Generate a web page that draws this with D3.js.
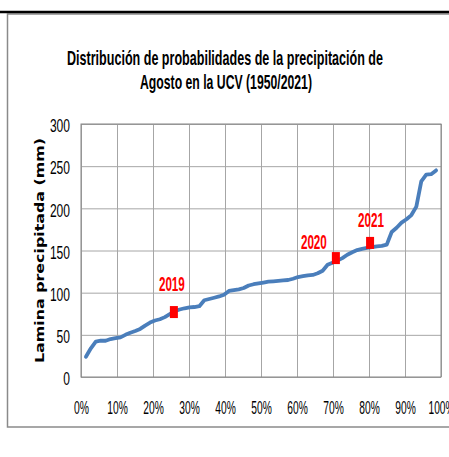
<!DOCTYPE html>
<html>
<head>
<meta charset="utf-8">
<script src="https://cdn.jsdelivr.net/npm/d3@7"></script>
<style>
  body { margin: 0; background: #fff; }
  svg { display: block; }
  .tick text { font-family: "Liberation Sans Narrow", "Liberation Sans", Arial, sans-serif; font-size: 18.5px; fill: #000; }
</style>
</head>
<body>
<div id="graf"></div>
<script>
// Lamina precipitada de agosto (mm), ordenada de menor a mayor, 72 años (1950/2021)
var lamina = [
  24, 34, 42, 43, 43, 45, 46, 47, 50, 52.5,
  54.5, 57, 61, 64.5, 67, 68.5, 71, 74.5, 78, 80,
  81.5, 82.5, 83, 84, 91, 92.5, 94, 95.5, 97.5, 102,
  103, 104, 105.5, 108.5, 110, 111, 112, 113, 113.5, 114,
  114.5, 115, 116.5, 118.5, 119.5, 120.5, 121, 123, 126, 133,
  135.5, 138, 141, 145, 148, 150.5, 152, 153, 154, 155,
  155.5, 157, 172, 177, 183, 187, 192, 202, 232, 240,
  240.5, 245
]
// años destacados
var anios      = ['2019', '2020', '2021']
var anioProb   = [0.258, 0.708, 0.803]
var anioLamina = [77, 141, 159]

var yTicks = [0, 50, 100, 150, 200, 250, 300]
var xTicks = [0, 0.1, 0.2, 0.3, 0.4, 0.5, 0.6, 0.7, 0.8, 0.9, 1]

var ancho_total = 449, alto_total = 457
var margins = { top: 124, left: 81, right: 8, bottom: 80 }
var ancho = ancho_total - margins.left - margins.right
var alto  = alto_total - margins.top - margins.bottom

// probabilidad de Weibull i/(n+1)
var n = lamina.length
var data = lamina.map((v, i) => ({ p: (i + 1) / (n + 1), v: v }))

var svg = d3.select('#graf').append('svg')
  .attr('width', ancho_total)
  .attr('height', alto_total)

svg.append('rect').attr('width', ancho_total).attr('height', alto_total).attr('fill', '#fff')

// marco del grafico
svg.append('rect')
  .attr('x', 7.5).attr('y', 14)
  .attr('width', 470).attr('height', 413)
  .attr('fill', 'none')
  .attr('stroke', '#8a8a8a')
  .attr('stroke-width', 1.5)
svg.append('line')
  .attr('x1', 0).attr('x2', ancho_total)
  .attr('y1', 12).attr('y2', 12)
  .attr('stroke', '#000')
  .attr('stroke-width', 2.5)

// titulo
var titulo = svg.append('g')
  .attr('font-family', '"Liberation Sans Narrow", "Liberation Sans", Arial, sans-serif')
  .attr('font-weight', 'bold')
  .attr('font-size', '21px')
  .attr('text-anchor', 'middle')
titulo.append('text').attr('x', 225).attr('y', 65)
  .attr('textLength', 316).attr('lengthAdjust', 'spacingAndGlyphs')
  .text('Distribución de probabilidades de la precipitación de')
titulo.append('text').attr('x', 226).attr('y', 89)
  .attr('textLength', 172).attr('lengthAdjust', 'spacingAndGlyphs')
  .text('Agosto en la UCV (1950/2021)')

var g = svg.append('g')
  .attr('transform', `translate(${margins.left}, ${margins.top})`)

var x = d3.scaleLinear().domain([0, 1]).range([0, ancho])
var y = d3.scaleLinear().domain([0, 300]).range([alto, 0])

// rejilla
g.append('g')
  .attr('transform', `translate(0, ${alto})`)
  .call(d3.axisBottom(x).tickValues(xTicks).tickSize(-alto).tickFormat(''))
  .call(a => a.select('.domain').remove())
  .selectAll('line').attr('stroke', '#a6a6a6')
g.append('g')
  .call(d3.axisLeft(y).tickValues(yTicks).tickSize(-ancho).tickFormat(''))
  .call(a => a.select('.domain').remove())
  .selectAll('line').attr('stroke', '#a6a6a6')

g.append('rect')
  .attr('width', ancho).attr('height', alto)
  .attr('fill', 'none')
  .attr('stroke', '#868686')
  .attr('stroke-width', 1)

// ejes (solo etiquetas)
var xAxis = g.append('g')
  .attr('transform', `translate(0, ${alto})`)
  .call(d3.axisBottom(x).tickValues(xTicks).tickSize(0).tickFormat(d3.format('.0%')))
xAxis.select('.domain').remove()
xAxis.selectAll('text')
  .attr('y', 37).attr('dy', 0)
  .attr('textLength', function() { var t = this.textContent; return (t.length - 1) * 5.5 + 9.5 })
  .attr('lengthAdjust', 'spacingAndGlyphs')

var yAxis = g.append('g')
  .call(d3.axisLeft(y).tickValues(yTicks).tickSize(0).tickPadding(11))
yAxis.select('.domain').remove()
yAxis.selectAll('text')
  .attr('dy', '0.42em')
  .attr('textLength', function() { return this.textContent.length * 6.7 })
  .attr('lengthAdjust', 'spacingAndGlyphs')

// titulo eje y
svg.append('text')
  .attr('transform', 'translate(43.5, 250.5) rotate(-90)')
  .attr('text-anchor', 'middle')
  .attr('font-family', '"DejaVu Sans", Verdana, sans-serif')
  .attr('font-weight', 'bold')
  .attr('font-size', '11.5px')
  .attr('textLength', 225)
  .attr('lengthAdjust', 'spacingAndGlyphs')
  .text('Lamina precipitada  (mm)')

// curva
var lineaGen = d3.line()
  .x(d => x(d.p))
  .y(d => y(d.v))
g.append('path')
  .attr('d', lineaGen(data))
  .attr('fill', 'none')
  .attr('stroke', '#4a7ebb')
  .attr('stroke-width', 3.8)
  .attr('stroke-linejoin', 'round')
  .attr('stroke-linecap', 'round')

// años destacados
var offsets = [[-2, -21], [-22, -9], [1, -16]]
anios.forEach((a, i) => {
  var cx = x(anioProb[i]), cy = y(anioLamina[i])
  g.append('rect')
    .attr('x', cx - 4).attr('y', cy - 6)
    .attr('width', 8).attr('height', 12)
    .attr('fill', '#ff0000')
  g.append('text')
    .attr('x', cx + offsets[i][0]).attr('y', cy + offsets[i][1])
    .attr('text-anchor', 'middle')
    .attr('font-family', '"Liberation Sans Narrow", "Liberation Sans", Arial, sans-serif')
    .attr('font-weight', 'bold')
    .attr('font-size', '19.5px')
    .attr('fill', '#ff0000')
    .attr('textLength', 26)
    .attr('lengthAdjust', 'spacingAndGlyphs')
    .text(a)
})
</script>
</body>
</html>
